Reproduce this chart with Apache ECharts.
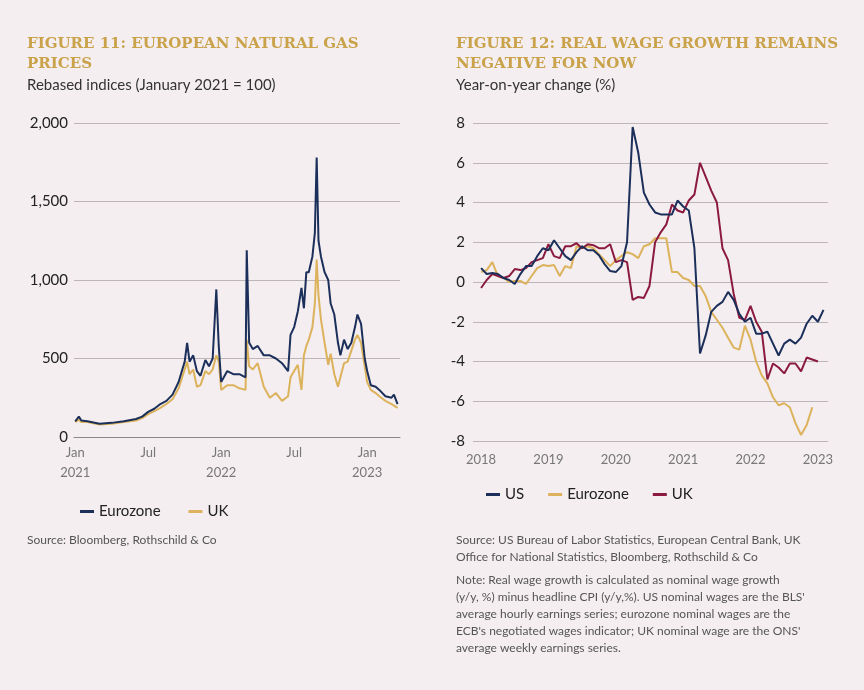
<!DOCTYPE html>
<html><head><meta charset="utf-8">
<script src="https://cdn.jsdelivr.net/npm/echarts@6/dist/echarts.min.js"></script>
<style>html,body{margin:0;padding:0;background:#f4eef0}#c{width:864px;height:690px}</style>
</head><body><div id="c"></div>
<script>
// Figure 11: months since Jan 2021
const gasX = [0,0.3,0.5,1,2,3,4,5,5.5,6,6.5,7,7.5,8,8.5,9,9.2,9.4,9.7,10,10.3,10.7,11,11.3,11.6,11.8,12.0,12.5,13,13.5,14,14.1,14.3,14.6,15,15.5,16,16.5,17,17.5,17.7,18,18.3,18.6,18.8,19.0,19.2,19.5,19.7,19.85,20,20.2,20.5,20.8,21,21.3,21.6,21.8,22.1,22.4,22.7,23,23.2,23.5,23.8,24,24.3,24.7,25,25.5,26,26.2,26.5];
const gasEurozone = [100,130,105,100,85,90,100,115,130,160,180,210,230,270,350,480,600,480,520,420,390,490,450,500,940,580,350,420,400,400,380,1190,600,560,580,520,520,500,470,420,650,700,800,950,820,1050,1050,1150,1300,1780,1250,1150,1050,1000,850,780,600,520,620,560,600,700,780,720,500,420,330,320,300,260,250,270,210];
const gasUK = [95,110,95,95,80,85,95,105,120,145,165,185,210,240,310,430,480,400,430,320,330,420,400,430,520,480,300,330,330,310,300,620,450,430,470,320,250,280,230,260,380,420,460,300,520,580,620,700,850,1130,900,750,600,460,530,400,320,380,470,480,550,620,650,600,450,350,300,280,260,230,210,200,185];
const gasTicks = [0,6,12,18,24];
// Figure 12: monthly from Jan 2018
const wageUS = [0.7,0.4,0.45,0.4,0.2,0.1,-0.1,0.4,0.8,0.8,1.3,1.7, 1.6,2.1,1.7,1.3,1.1,1.5,1.8,1.6,1.6,1.35,0.9,0.55, 0.5,0.8,2.0,7.8,6.5,4.5,3.9,3.5,3.4,3.4,3.4,4.1, 3.8,3.6,1.7,-3.6,-2.7,-1.5,-1.2,-1.0,-0.5,-0.9,-1.6,-2.0, -1.8,-2.6,-2.6,-2.5,-3.1,-3.7,-3.1,-2.9,-3.1,-2.8,-2.1,-1.7, -2.0,-1.4];
const wageEurozone = [0.5,0.6,1.0,0.3,0.2,0.0,0.05,0.05,-0.1,0.3,0.7,0.85, 0.8,0.85,0.3,0.8,0.7,1.8,1.7,1.8,1.7,1.4,1.1,0.8, 1.1,1.3,1.5,1.4,1.2,1.8,1.9,2.2,2.2,2.2,0.5,0.5, 0.2,0.1,-0.2,-0.2,-0.7,-1.5,-1.9,-2.3,-2.8,-3.3,-3.4,-2.2, -2.9,-4.0,-4.7,-5.1,-5.8,-6.2,-6.1,-6.3,-7.1,-7.7,-7.2,-6.3];
const wageUK = [-0.3,0.1,0.4,0.3,0.2,0.3,0.65,0.6,0.7,1.0,1.1,1.2, 1.9,1.3,1.2,1.8,1.8,1.95,1.7,1.9,1.85,1.7,1.7,1.9, 1.0,1.1,1.0,-0.9,-0.75,-0.8,-0.2,2.0,2.5,2.9,3.9,3.6, 3.5,4.1,4.4,6.0,5.3,4.6,4.0,1.7,1.1,-0.6,-1.8,-1.9, -1.2,-2.0,-2.5,-4.9,-4.1,-4.3,-4.6,-4.1,-4.1,-4.5,-3.8,-3.9, -4.0];
const wageTicks = [2018,2019,2020,2021,2022,2023];

const NAVY='#1b2f5a', GOLD='#dcb35c', RED='#8b1a3f';
const pairs=(xs,ys)=>ys.map((v,i)=>[xs[i],v]);
const monthly=ys=>ys.map((v,i)=>[2018+i/12,v]);
const chart=echarts.init(document.getElementById('c'));
const ttl={fontFamily:'DejaVu Serif',fontWeight:'bold',fontSize:15,fill:'#c9a24a'};
const sub={fontFamily:'Source Sans Pro, Lato',fontSize:15,fill:'#333'};
const note={fontFamily:'Lato',fontSize:12,fill:'#555',lineHeight:17};
chart.setOption({
 backgroundColor:'#f4eef0',
 animation:false,
 textStyle:{fontFamily:'Lato'},
 graphic:[
  {type:'text',left:27,top:34,style:Object.assign({text:'FIGURE 11: EUROPEAN NATURAL GAS\nPRICES',lineHeight:20},ttl)},
  {type:'text',left:27,top:78,style:Object.assign({text:'Rebased indices (January 2021 = 100)'},sub)},
  {type:'text',left:456,top:34,style:Object.assign({text:'FIGURE 12: REAL WAGE GROWTH REMAINS\nNEGATIVE FOR NOW',lineHeight:20},ttl)},
  {type:'text',left:456,top:78,style:Object.assign({text:'Year-on-year change (%)'},sub)},
  {type:'text',left:27,top:532,style:Object.assign({text:'Source: Bloomberg, Rothschild & Co'},note)},
  {type:'text',left:456,top:532,style:Object.assign({text:'Source: US Bureau of Labor Statistics, European Central Bank, UK\nOffice for National Statistics, Bloomberg, Rothschild & Co'},note)},
  {type:'text',left:456,top:572,style:Object.assign({text:"Note: Real wage growth is calculated as nominal wage growth\n(y/y, %) minus headline CPI (y/y,%). US nominal wages are the BLS'\naverage hourly earnings series; eurozone nominal wages are the\nECB's negotiated wages indicator; UK nominal wage are the ONS'\naverage weekly earnings series."},note)}
 ],
 legend:[
  {left:75,top:499,icon:'rect',itemWidth:14,itemHeight:3,itemGap:24,textStyle:{fontSize:15,color:'#222'},data:['Eurozone ','UK ']},
  {left:481,top:482,icon:'rect',itemWidth:14,itemHeight:3,itemGap:24,textStyle:{fontSize:15,color:'#222'},data:['US','Eurozone','UK']}
 ],
 grid:[
  {left:74,right:464,top:123,bottom:253},
  {left:473,right:36,top:123,bottom:249}
 ],
 xAxis:[
  {gridIndex:0,type:'value',min:-0.1,max:26.7,axisLine:{lineStyle:{color:'#888'}},axisTick:{show:false},splitLine:{show:false},
   axisLabel:{customValues:gasTicks,color:'#777',fontSize:13,lineHeight:20,margin:6,
    formatter:v=>v%12===0?'Jan\n'+(2021+v/12):'Jul'}},
  {gridIndex:1,type:'value',min:2017.88,max:2023.15,axisLine:{show:false},axisTick:{show:false},splitLine:{show:false},
   axisLabel:{customValues:wageTicks,color:'#777',fontSize:13,margin:12,formatter:v=>String(Math.round(v))}}
 ],
 yAxis:[
  {gridIndex:0,type:'value',min:0,max:2000,interval:500,axisLine:{show:false},axisTick:{show:false},
   splitLine:{lineStyle:{color:'#bdb5b8'}},axisLabel:{color:'#222',fontSize:15,margin:6,formatter:v=>v.toLocaleString('en-US')}},
  {gridIndex:1,type:'value',min:-8,max:8,interval:2,axisLine:{show:false},axisTick:{show:false},
   splitLine:{lineStyle:{color:'#bdb5b8'}},axisLabel:{color:'#222',fontSize:15,margin:8}}
 ],
 series:[
  {name:'Eurozone ',type:'line',xAxisIndex:0,yAxisIndex:0,data:pairs(gasX,gasEurozone),showSymbol:false,lineStyle:{color:NAVY,width:2},itemStyle:{color:NAVY},z:3},
  {name:'UK ',type:'line',xAxisIndex:0,yAxisIndex:0,data:pairs(gasX,gasUK),showSymbol:false,lineStyle:{color:GOLD,width:2},itemStyle:{color:GOLD},z:2},
  {name:'US',type:'line',xAxisIndex:1,yAxisIndex:1,data:monthly(wageUS),showSymbol:false,lineStyle:{color:NAVY,width:2},itemStyle:{color:NAVY},z:4},
  {name:'Eurozone',type:'line',xAxisIndex:1,yAxisIndex:1,data:monthly(wageEurozone),showSymbol:false,lineStyle:{color:GOLD,width:2},itemStyle:{color:GOLD},z:2},
  {name:'UK',type:'line',xAxisIndex:1,yAxisIndex:1,data:monthly(wageUK),showSymbol:false,lineStyle:{color:RED,width:2},itemStyle:{color:RED},z:3}
 ]
});
</script></body></html>
